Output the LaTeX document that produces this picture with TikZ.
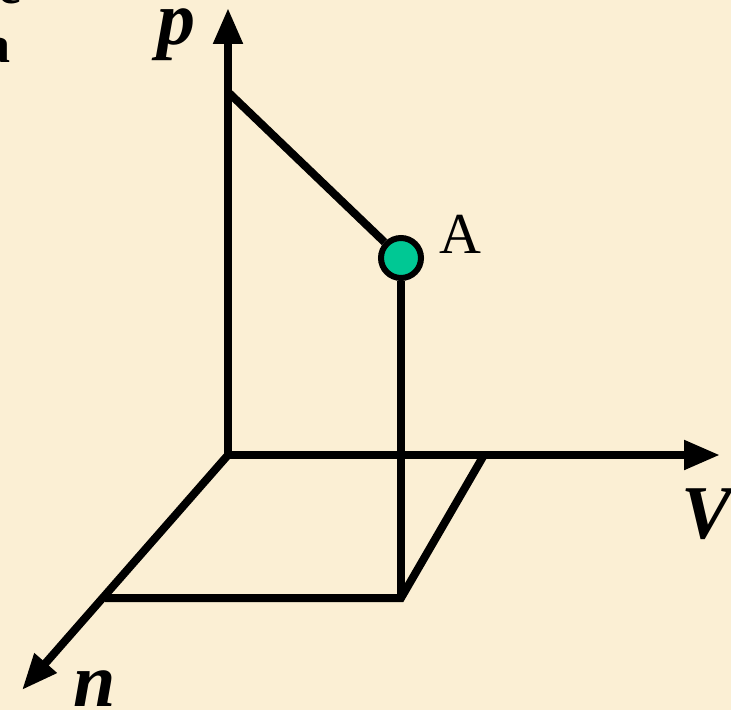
\documentclass[tikz,border=0pt]{standalone}
\usepackage{fontspec}
\setmainfont{Liberation Serif}
\usetikzlibrary{arrows.meta}
\definecolor{paper}{HTML}{FBEFD4}
\definecolor{dotgreen}{HTML}{00C894}

\begin{document}
\begin{tikzpicture}[x=0.5pt,y=-0.5pt,line width=4pt,
    axis/.style={-{Triangle[length=18pt,width=14pt]}},
    axlabel/.style={font=\fontsize{38}{40}\selectfont\bfseries\itshape},
    statept/.style={circle,draw,line width=3pt,fill=dotgreen,minimum size=20pt,inner sep=0pt}]
			\fill[paper] (0,0) rectangle (731,710);
			\useasboundingbox (0,0) rectangle (731,710);
			% \draw[style=help lines,step=50] (0,0) grid (731,710);

			% clipped text at the left edge
			\node[anchor=base east,inner sep=0pt,font=\fontsize{26}{28}\selectfont\bfseries] (cute) at (26,4) {e};
			\node[anchor=base east,inner sep=0pt,font=\fontsize{26}{28}\selectfont\bfseries] (cuta) at (14,63) {a};

			\coordinate (O) at (228,455);
			\coordinate (ptip) at (228,8);
			\coordinate (Vtip) at (720,455);
			\coordinate (ntip) at (22,690);
			\coordinate (p0) at (228,92);
			\coordinate (nfoot) at (105,598);
			\coordinate (V0) at (484,455);

			\draw[axis] (O) -- (ptip);
			\draw[axis] (O) -- (Vtip);
			\draw[axis] (O) -- (ntip);

			\node[statept] (A) at (401,258) {};
			\coordinate (foot) at (A |- nfoot);
			\draw (p0) -- (A);
			\draw (A) -- (foot);
			\draw[line join=miter] (nfoot) -- (foot) -- (V0);

			\node[axlabel,anchor=base] (plab) at (176,45) {p};
			\node[axlabel,anchor=base] (Vlab) at (707,538) {V};
			\node[axlabel,anchor=base] (nlab) at (95,706) {n};
			\node[anchor=base,font=\fontsize{29}{32}\selectfont] (Alab) at (460,254) {A};
		\end{tikzpicture}
\end{document}
